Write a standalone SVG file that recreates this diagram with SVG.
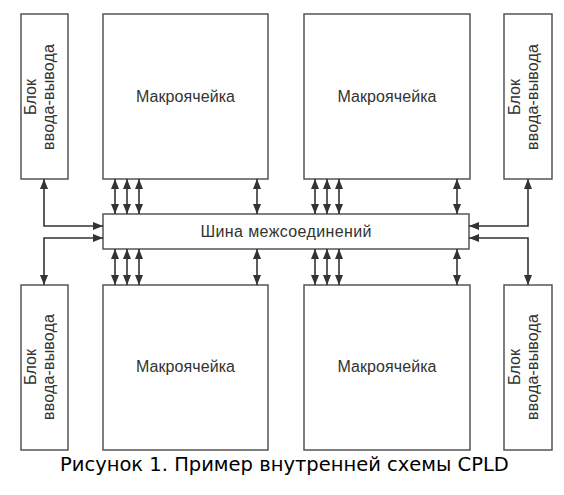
<svg xmlns="http://www.w3.org/2000/svg" width="564" height="495" viewBox="0 0 564 495">
<style>
.box{fill:#fff;stroke:#555;stroke-width:1.5}
.lbl{font-family:"Liberation Sans",Arial,sans-serif;font-size:16px;fill:#333;text-anchor:middle}
.cap{font-family:"DejaVu Sans",Verdana,sans-serif;font-size:19.5px;fill:#000}
.c{stroke:#333;stroke-width:1.6;fill:none;marker-start:url(#ah);marker-end:url(#ah)}
</style>
<defs>
<marker id="ah" markerUnits="userSpaceOnUse" markerWidth="11" markerHeight="9" refX="10" refY="4" orient="auto-start-reverse">
<path d="M0,0 L10,4 L0,8 z" fill="#333"/>
</marker>
</defs>
<rect width="564" height="495" fill="#fff"/>
<g id="io-tl"><rect class="box" x="21" y="14" width="47" height="165"/>
<text class="lbl" transform="translate(44,97) rotate(-90)"><tspan x="0" y="-8" textLength="36">Блок</tspan><tspan x="0" y="10" textLength="106">ввода-вывода</tspan></text></g>
<g id="mc-tl"><rect class="box" x="103" y="14" width="165" height="165"/><text class="lbl" x="185.5" y="102" textLength="99">Макроячейка</text></g>
<g id="mc-tr"><rect class="box" x="304" y="14" width="166" height="165"/><text class="lbl" x="387" y="102" textLength="99">Макроячейка</text></g>
<g id="io-tr"><rect class="box" x="504" y="14" width="48" height="165"/>
<text class="lbl" transform="translate(528,97) rotate(-90)"><tspan x="0" y="-8" textLength="36">Блок</tspan><tspan x="0" y="10" textLength="106">ввода-вывода</tspan></text></g>
<g id="bus"><rect class="box" x="103" y="214" width="366" height="35"/><text class="lbl" x="286" y="237" textLength="171">Шина межсоединений</text></g>
<g id="io-bl"><rect class="box" x="21" y="285" width="47" height="165"/>
<text class="lbl" transform="translate(44,367) rotate(-90)"><tspan x="0" y="-8" textLength="36">Блок</tspan><tspan x="0" y="10" textLength="106">ввода-вывода</tspan></text></g>
<g id="mc-bl"><rect class="box" x="103" y="285" width="165" height="165"/><text class="lbl" x="185.5" y="372" textLength="99">Макроячейка</text></g>
<g id="mc-br"><rect class="box" x="304" y="285" width="166" height="165"/><text class="lbl" x="387" y="372" textLength="99">Макроячейка</text></g>
<g id="io-br"><rect class="box" x="504" y="285" width="48" height="165"/>
<text class="lbl" transform="translate(528,367) rotate(-90)"><tspan x="0" y="-8" textLength="36">Блок</tspan><tspan x="0" y="10" textLength="106">ввода-вывода</tspan></text></g>
<g id="connectors">
<line class="c" x1="115" y1="179" x2="115" y2="214"/>
<line class="c" x1="127" y1="179" x2="127" y2="214"/>
<line class="c" x1="139" y1="179" x2="139" y2="214"/>
<line class="c" x1="257" y1="179" x2="257" y2="214"/>
<line class="c" x1="315" y1="179" x2="315" y2="214"/>
<line class="c" x1="327" y1="179" x2="327" y2="214"/>
<line class="c" x1="339" y1="179" x2="339" y2="214"/>
<line class="c" x1="457" y1="179" x2="457" y2="214"/>
<line class="c" x1="115" y1="249" x2="115" y2="285"/>
<line class="c" x1="127" y1="249" x2="127" y2="285"/>
<line class="c" x1="139" y1="249" x2="139" y2="285"/>
<line class="c" x1="257" y1="249" x2="257" y2="285"/>
<line class="c" x1="315" y1="249" x2="315" y2="285"/>
<line class="c" x1="327" y1="249" x2="327" y2="285"/>
<line class="c" x1="339" y1="249" x2="339" y2="285"/>
<line class="c" x1="457" y1="249" x2="457" y2="285"/>
<polyline class="c" points="44,179 44,226 103,226"/>
<polyline class="c" points="103,238 44,238 44,285"/>
<polyline class="c" points="528,179 528,226 469,226"/>
<polyline class="c" points="469,238 528,238 528,285"/>
</g>
<text class="cap" x="60" y="471">Рисунок 1. Пример внутренней схемы CPLD</text>
</svg>
